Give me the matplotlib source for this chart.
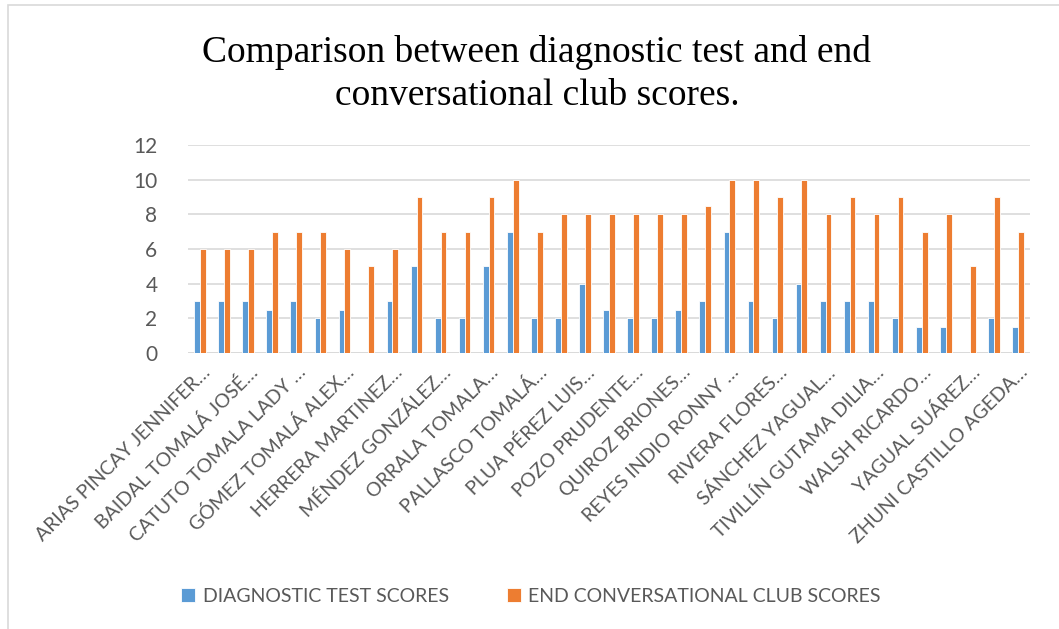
import numpy as np
import matplotlib.pyplot as plt
from matplotlib.patches import Rectangle
from matplotlib.transforms import ScaledTranslation

# Student scores: diagnostic test vs. end of conversational club
diagnostic = [3, 3, 3, 2.5, 3, 2, 2.5, 0, 3, 5, 2, 2, 5, 7, 2, 2, 4, 2.5,
              2, 2, 2.5, 3, 7, 3, 2, 4, 3, 3, 3, 2, 1.5, 1.5, 0, 2, 1.5]
end_club = [6, 6, 6, 7, 7, 7, 6, 5, 6, 9, 7, 7, 9, 10, 7, 8, 8, 8,
            8, 8, 8, 8.5, 10, 10, 9, 10, 8, 9, 8, 9, 7, 8, 5, 9, 7]

# only every other student name fits on the axis
names = ["ARIAS PINCAY JENNIFER…", "BAIDAL TOMALÁ JOSÉ…", "CATUTO TOMALA LADY …",
         "GÓMEZ TOMALÁ ALEX…", "HERRERA MARTINEZ…", "MÉNDEZ GONZÁLEZ…",
         "ORRALA TOMALA…", "PALLASCO TOMALÁ…", "PLUA PÉREZ LUIS…",
         "POZO PRUDENTE…", "QUIROZ BRIONES…", "REYES INDIO RONNY …",
         "RIVERA FLORES…", "SÁNCHEZ YAGUAL…", "TIVILLÍN GUTAMA DILIA…",
         "WALSH RICARDO…", "YAGUAL SUÁREZ…", "ZHUNI CASTILLO AGEDA…"]

series = ["DIAGNOSTIC TEST SCORES", "END CONVERSATIONAL CLUB SCORES"]
colors = ["#5B9BD5", "#ED7D31"]
grey = "#595959"

plt.rcParams['font.family'] = ['Lato', 'DejaVu Sans']

fig = plt.figure(figsize=(10.59, 6.29), dpi=100)
fig.patches.append(Rectangle((8 / 1059, -0.1), 1.2, 1 - 5 / 629 + 0.1,
                             transform=fig.transFigure, fill=False,
                             edgecolor="#D9D9D9", linewidth=1.2))

ax = fig.add_axes([188 / 1059, 1 - 353 / 629, 842 / 1059, 208 / 629])

x = np.arange(len(diagnostic))
w = 0.24
ax.bar(x - w / 2, diagnostic, w, color=colors[0], edgecolor="white",
       linewidth=0.6, label=series[0], zorder=3)
ax.bar(x + w / 2, end_club, w, color=colors[1], edgecolor="white",
       linewidth=0.6, label=series[1], zorder=3)

ax.set_xlim(-0.5, len(diagnostic) - 0.5)
ax.set_ylim(0, 12)
ax.set_yticks(range(0, 13, 2))
ax.yaxis.grid(True, color="#D9D9D9", linewidth=1.2, zorder=0)
for s in ax.spines.values():
    s.set_visible(False)
ax.axhline(0, color="#D9D9D9", linewidth=1.2, zorder=2)

ax.set_xticks(x[::2])
ax.set_xticklabels(names, rotation=45, ha="right", va="center",
                   rotation_mode="anchor", fontsize=14, color=grey)
ax.tick_params(axis="x", length=0, pad=12)
ax.tick_params(axis="y", length=0, pad=22, labelsize=15, labelcolor=grey)
shift = ScaledTranslation(7 / 100, 0, fig.dpi_scale_trans)
for lab in ax.get_xticklabels():
    lab.set_transform(lab.get_transform() + shift)

fig.text(537 / 1059, 1 - 74 / 629, "Comparison between diagnostic test and end\nconversational club scores.",
         ha="center", va="center", fontsize=27, family="Liberation Serif",
         linespacing=1.3)

fig.legend(loc="center", bbox_to_anchor=(531 / 1059, 1 - 596 / 629), ncol=2,
           frameon=False, fontsize=14, labelcolor=grey, handlelength=0.7,
           handleheight=0.7, handletextpad=0.4, columnspacing=3.0)

fig.savefig("out.png", dpi=100)
